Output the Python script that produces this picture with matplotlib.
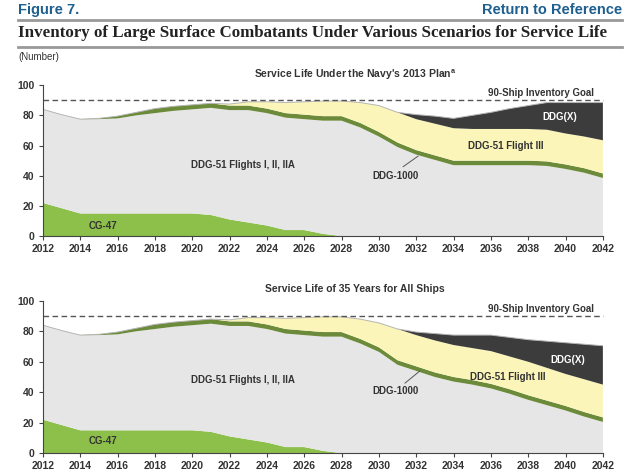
import numpy as np
from matplotlib import pyplot as plt

years = list(range(2012, 2043))

# Navy's 2013 plan
cg47 = [22, 18.5, 15, 15, 15, 15, 15, 15, 15, 14, 11, 9, 7, 4, 4, 1.5, 0,
        0, 0, 0, 0, 0, 0, 0, 0, 0, 0, 0, 0, 0, 0]
ddg51_a = [62, 62, 62.5, 62.5, 63, 65, 66.5, 68, 69, 71, 72.5, 74.5, 74.5, 74.5, 73.5, 75, 76.5,
           72, 66, 59, 54, 50.5, 47, 47, 47, 47, 47, 46.5, 44.5, 42, 38.5]
ddg1000 = [0, 0, 0, 0.5, 1.5, 2, 3, 3, 3, 3, 3, 3, 3, 3, 3, 3, 3,
           3, 3, 3, 3, 3, 3, 3, 3, 3, 3, 3, 3, 3, 3]
flight3_a = [0, 0, 0, 0, 0, 0, 0, 0, 0, 0, 1, 2.5, 4.5, 7, 8.5, 10, 10,
             13.5, 17.5, 20, 20.5, 21, 21.5, 21, 21, 21, 21, 21, 20.5, 21, 22]
ddgx_a = [0, 0, 0, 0, 0, 0, 0, 0, 0, 0, 0, 0, 0, 0, 0, 0, 0,
          0, 0, 0, 3, 5, 6.5, 9, 11, 13.5, 15.5, 18, 20.5, 22.5, 25]

# 35 years for all ships
ddg51_b = [62, 62, 62.5, 62.5, 63, 65, 66.5, 68, 69, 71, 72.5, 74.5, 74.5, 74.5, 73.5, 75, 76.5,
           72, 66.5, 58, 54, 50, 47, 45, 42.5, 39, 35, 31.5, 28, 24, 20.5]
flight3_b = [0, 0, 0, 0, 0, 0, 0, 0, 0, 0, 1, 2.5, 4.5, 7, 8.5, 10, 10,
             13, 16, 20.5, 20.5, 21, 21, 21, 21.5, 21.5, 22, 21.5, 21, 21.5, 21.5]
ddgx_b = [0, 0, 0, 0, 0, 0, 0, 0, 0, 0, 0, 0, 0, 0, 0, 0, 0,
          0, 0, 0, 2, 4.5, 6.5, 8.5, 10.5, 12.5, 14.5, 17.5, 20.5, 23, 25.5]

colors = ["#8dbf4b", "#e6e6e6", "#6b8a3a", "#fbf5b9", "#3c3c3c"]
blue = "#1d5f8f"
font = "Liberation Sans"

fig = plt.figure(figsize=(6.4, 4.76), dpi=100)

fig.text(0.028, 0.979, "Figure 7.", color=blue, fontsize=10.5, fontweight="bold",
         family=font, va="center")
fig.text(0.972, 0.979, "Return to Reference", color=blue, fontsize=10.5, fontweight="bold",
         family=font, va="center", ha="right")
fig.add_artist(plt.Line2D([0.028, 0.972], [0.958, 0.958], color="#999999", lw=2))
fig.text(0.028, 0.930, "Inventory of Large Surface Combatants Under Various Scenarios for Service Life",
         fontsize=12.2, fontweight="bold", family="Liberation Serif", va="center", color="#222222")
fig.add_artist(plt.Line2D([0.028, 0.972], [0.901, 0.901], color="#999999", lw=2))
fig.text(0.028, 0.880, "(Number)", fontsize=7, family=font, va="center", color="#333333")


def panel(ax, ddg51, flight3, ddgx, title, title_y, labels):
    stack = [cg47, ddg51, ddg1000, flight3, ddgx]
    ax.stackplot(years, stack, colors=colors, lw=0)
    total = np.sum(stack, axis=0)
    ax.plot(years, total, color="#b5b5b5", lw=0.7)
    ax.axhline(90, color="#555555", lw=1, ls=(0, (4, 2.5)), clip_on=False)
    ax.set_xlim(2012, 2042)
    ax.set_ylim(0, 100)
    ax.set_xticks(range(2012, 2043, 2))
    ax.set_yticks(range(0, 101, 20))
    for s in ["top", "right"]:
        ax.spines[s].set_visible(False)
    for s in ["left", "bottom"]:
        ax.spines[s].set_color("#444444")
        ax.spines[s].set_linewidth(0.8)
    ax.tick_params(length=3, width=0.8, color="#444444", labelsize=7.5, pad=3)
    for t in ax.get_xticklabels() + ax.get_yticklabels():
        t.set_fontweight("bold")
        t.set_family(font)
        t.set_color("#333333")
    fig.text(0.555, title_y, title, ha="center", va="center",
             fontsize=7.5, fontweight="bold", family=font, color="#333333")
    ax.text(2041.5, 91.5, "90-Ship Inventory Goal", ha="right", va="bottom",
            fontsize=7, fontweight="bold", family=font, color="#333333")
    kw = dict(ha="center", va="center", fontsize=7, fontweight="bold", family=font, color="#333333")
    ax.text(2022.7, labels["ddg51"], "DDG-51 Flights I, II, IIA", **kw)
    ax.text(2015.2, labels["cg"], "CG-47", **kw)
    ax.text(2030.9, labels["d1000"], "DDG-1000", **kw)
    ax.plot(labels["lead_x"], labels["lead_y"], color="#555555", lw=0.7)
    ax.text(labels["f3"][0], labels["f3"][1], "DDG-51 Flight III", **kw)
    kw["color"] = "white"
    ax.text(labels["x"][0], labels["x"][1], "DDG(X)", **kw)


ax1 = fig.add_axes([0.067, 0.504, 0.875, 0.317])
panel(ax1, ddg51_a, flight3_a, ddgx_a, "Service Life Under the Navy's 2013 Plan$^{\\mathregular{a}}$",
      1 - 75 / 476,
      {"ddg51": 47, "cg": 7, "d1000": 40, "lead_x": [2031.3, 2032.1], "lead_y": [46, 53],
       "f3": (2036.8, 60), "x": (2039.7, 79)})

ax2 = fig.add_axes([0.067, 0.048, 0.875, 0.32])
panel(ax2, ddg51_b, flight3_b, ddgx_b, "Service Life of 35 Years for All Ships",
      1 - 289 / 476,
      {"ddg51": 48, "cg": 8, "d1000": 40.5, "lead_x": [2031.4, 2032.2], "lead_y": [46, 54],
       "f3": (2036.9, 50), "x": (2040.1, 61)})

plt.savefig("out.png", dpi=100)
